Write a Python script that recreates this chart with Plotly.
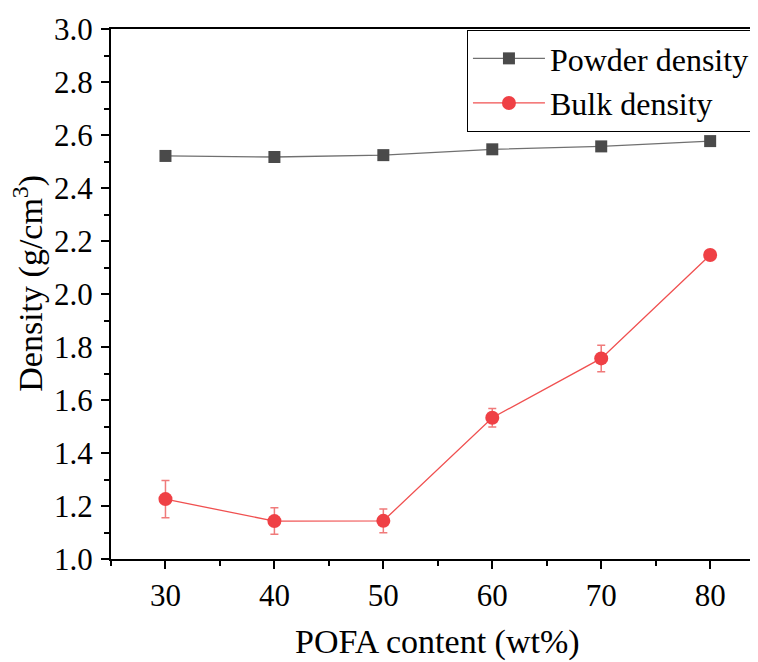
import plotly.graph_objects as go

pofa = [30, 40, 50, 60, 70, 80]
powder_density = [2.521, 2.517, 2.524, 2.546, 2.557, 2.577]
bulk_density = [1.226, 1.143, 1.144, 1.533, 1.757, 2.147]
bulk_err = [0.070, 0.050, 0.045, 0.035, 0.050, 0.0]

FONT = "Liberation Serif, Times New Roman, serif"

fig = go.Figure()
fig.add_trace(go.Scatter(
    x=pofa, y=powder_density, mode="lines+markers", name="Powder density",
    line=dict(color="#707070", width=1.3),
    marker=dict(symbol="square", size=12, color="#4a4a4a"),
))
fig.add_trace(go.Scatter(
    x=pofa, y=bulk_density, mode="lines+markers", name="Bulk density",
    line=dict(color="#f05050", width=1.3),
    marker=dict(symbol="circle", size=14, color="#ef4045"),
    error_y=dict(type="data", array=bulk_err, color="#f07a7a", thickness=1.5, width=4),
))

# page body has an 8px margin, so the figure is 8px smaller than the window
fig.update_layout(
    width=750, height=654,
    margin=dict(l=103, r=1, t=21, b=103, autoexpand=False),
    paper_bgcolor="white", plot_bgcolor="white",
    font=dict(family=FONT, size=31, color="black"),
    showlegend=True,
    legend=dict(
        x=0.551, y=0.998, xanchor="left", yanchor="top",
        bordercolor="black", borderwidth=1, bgcolor="white",
        font=dict(family=FONT, size=32), itemwidth=72,
        tracegroupgap=0,
    ),
    xaxis=dict(
        range=[25, 84.3], tickvals=[30, 40, 50, 60, 70, 80],
        ticks="outside", ticklen=8, tickwidth=2, tickcolor="black",
        showline=True, linecolor="black", linewidth=2, mirror=True,
        showgrid=False, zeroline=False, automargin=False,
        minor=dict(tick0=25, dtick=10, ticks="outside", ticklen=5, tickwidth=2, tickcolor="black"),
        tickfont=dict(family=FONT, size=31), ticklabelstandoff=0,
    ),
    yaxis=dict(
        range=[1.0, 3.0], dtick=0.2, tickformat=".1f",
        ticks="outside", ticklen=8, tickwidth=2, tickcolor="black",
        showline=True, linecolor="black", linewidth=2, mirror=False,
        showgrid=False, zeroline=False, automargin=False,
        minor=dict(dtick=0.1, ticks="outside", ticklen=5, tickwidth=2, tickcolor="black"),
        tickfont=dict(family=FONT, size=31), ticklabelstandoff=2,
    ),
    annotations=[
        dict(text="POFA content (wt%)", xref="paper", yref="paper",
             x=0.506, y=-0.157, xanchor="center", yanchor="middle",
             showarrow=False, font=dict(family=FONT, size=34)),
        dict(text="Density (g/cm<sup>3</sup>)", xref="paper", yref="paper",
             x=-0.128, y=0.52, xanchor="center", yanchor="middle", textangle=-90,
             showarrow=False, font=dict(family=FONT, size=34)),
    ],
)

fig.write_html("out.html")
